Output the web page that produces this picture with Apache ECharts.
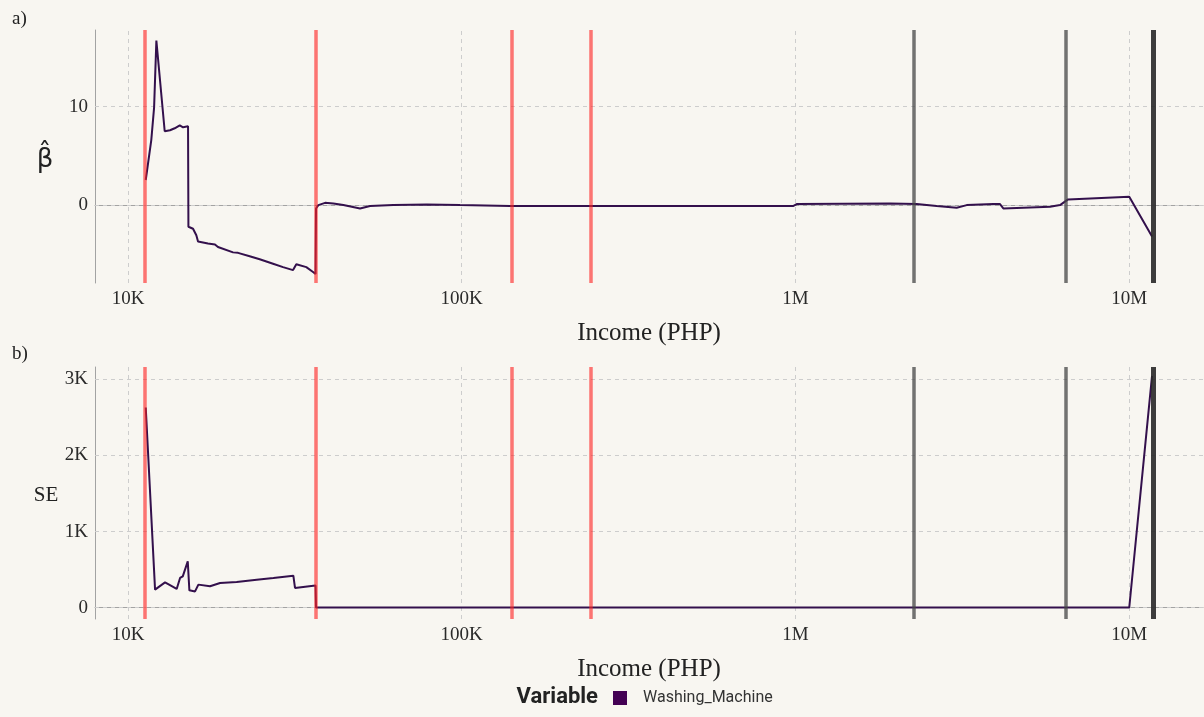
<!DOCTYPE html>
<html>
<head>
<meta charset="utf-8">
<script src="https://cdn.jsdelivr.net/npm/echarts@6/dist/echarts.min.js"></script>
<style>
  html, body { margin: 0; padding: 0; background: #f8f6f1; }
  #chart { width: 1204px; height: 717px; }
</style>
</head>
<body>
<div id="chart"></div>
<script>
// Coefficient estimates (beta hat) by income threshold
const betaIncome = [11300, 11740, 11970, 12160, 12880, 13360, 13800, 14290, 14620, 15130,
  15170, 15660, 16020, 16210, 17360, 18220, 18600, 20640, 21360, 23150,
  24810, 27200, 29140, 31230, 31940, 34220, 35840, 36470, 36590, 37180,
  38940, 41240, 44190, 49580, 53120, 62370, 78540, 98830, 139550, 392800,
  983500, 1009000, 1921000, 2309000, 2651000, 3043000, 3261000, 3918000, 4103000, 4198000,
  5794000, 6209000, 6561000, 10010000, 11713000];
const betaValues = [2.55, 6.6, 9.9, 16.7, 7.5, 7.6, 7.8, 8.1, 7.9, 8.0,
  -2.2, -2.4, -3.06, -3.7, -3.9, -4.0, -4.25, -4.8, -4.85, -5.2,
  -5.5, -5.95, -6.3, -6.6, -6.0, -6.3, -6.8, -7.0, -0.34, 0.0,
  0.23, 0.17, 0.0, -0.34, -0.1, 0.0, 0.07, 0.0, -0.1, -0.1,
  -0.1, 0.1, 0.17, 0.1, -0.1, -0.27, 0.0, 0.1, 0.1, -0.34,
  -0.17, 0.0, 0.58, 0.85, -3.2];

// Standard errors by income threshold
const seIncome = [11300, 12050, 12190, 12910, 13990, 14320, 14590, 15100, 15270, 15880,
  16250, 17610, 18870, 21160, 24300, 27260, 31290, 31650, 35920, 36470,
  36590, 100000, 1000000, 10010000, 11713000];
const seValues = [2628, 237, 214, 333, 246, 391, 412, 609, 228, 214,
  303, 281, 325, 338, 368, 391, 421, 259, 289, 290,
  4, 3, 3, 3, 3043];

// Breakpoints marked as vertical lines
const breaksRed = [11240, 36590, 141500, 244100];
const breaksGray = [2261000, 6471000];
const breaksDark = [11794000];

// Grid / tick values
const incomeTicks = [10000, 100000, 1000000, 10000000];
const betaTicks = [0, 10];
const seTicks = [0, 1000, 2000, 3000];

const serif = 'Liberation Serif';
const lineColor = '#33104c';
const gridLineStyle = { color: '#cdcdcd', width: 1, type: [4, 4] };

function incomeLabel(v) {
  if (v >= 1e6) return Math.round(v / 1e6) + 'M';
  return Math.round(v / 1e3) + 'K';
}
function pairs(xs, ys) { return xs.map((x, i) => [x, ys[i]]); }

function xAxisFor(gridIndex) {
  return {
    type: 'log', logBase: 10, gridIndex,
    min: 7962, max: 16650000,
    axisLine: { show: true, lineStyle: { color: '#a3a3a3', width: 1 } },
    axisTick: { show: false },
    splitLine: { show: false },
    axisLabel: {
      formatter: incomeLabel, showMinLabel: false, showMaxLabel: false,
      fontFamily: serif, fontSize: 19, color: '#2a2a2a', margin: 7
    },
    name: 'Income (PHP)', nameLocation: 'middle', nameGap: 38,
    nameTextStyle: { fontFamily: serif, fontSize: 25, color: '#222' }
  };
}
function yAxisFor(gridIndex, min, max, ticks, fmt) {
  return {
    type: 'value', gridIndex, min, max,
    axisLine: { show: true, lineStyle: { color: '#a3a3a3', width: 1 } },
    axisTick: { show: false },
    splitLine: { show: false },
    axisLabel: {
      customValues: ticks,
      formatter: v => (ticks.indexOf(v) >= 0 ? fmt(v) : ''),
      fontFamily: serif, fontSize: 19, color: '#2a2a2a', margin: 7
    }
  };
}

function gridSeries(idx, yTicks) {
  return {
    type: 'line', xAxisIndex: idx, yAxisIndex: idx, data: [], silent: true,
    markLine: {
      z: 1, silent: true, symbol: ['none', 'none'], label: { show: false },
      lineStyle: gridLineStyle, animation: false,
      data: incomeTicks.map(v => ({ xAxis: v })).concat(yTicks.map(v => ({ yAxis: v })))
    }
  };
}
function breakSeries(idx) {
  const mk = (vals, color, width) => vals.map(v => ({ xAxis: v, lineStyle: { color, width, type: 'solid' } }));
  return {
    type: 'line', xAxisIndex: idx, yAxisIndex: idx, data: [], silent: true,
    markLine: {
      z: 4, silent: true, symbol: ['none', 'none'], label: { show: false }, animation: false,
      data: mk(breaksRed, 'rgba(255,35,35,0.62)', 3.5)
        .concat(mk(breaksGray, 'rgba(70,70,70,0.75)', 3.5))
        .concat(mk(breaksDark, 'rgba(40,40,40,0.9)', 5))
    }
  };
}

const chart = echarts.init(document.getElementById('chart'));
chart.setOption({
  backgroundColor: '#f8f6f1',
  animation: false,
  grid: [
    { left: 95, top: 30, width: 1108, height: 253 },
    { left: 95, top: 367, width: 1108, height: 252 }
  ],
  xAxis: [xAxisFor(0), xAxisFor(1)],
  yAxis: [
    yAxisFor(0, -7.91, 17.78, betaTicks, v => String(v)),
    yAxisFor(1, -148, 3159, seTicks, v => (v === 0 ? '0' : v / 1000 + 'K'))
  ],
  legend: {
    left: 613, top: 690, padding: 0, icon: 'rect', itemWidth: 14, itemHeight: 14, itemGap: 10,
    data: ['Washing_Machine'],
    textStyle: { fontFamily: 'Roboto', fontSize: 16, color: '#333', padding: [0, 0, 0, 11] }
  },
  graphic: [
    { type: 'text', left: 12, top: 10, style: { text: 'a)', font: '19px "Liberation Serif"', fill: '#222' } },
    { type: 'text', left: 12, top: 345, style: { text: 'b)', font: '19px "Liberation Serif"', fill: '#222' } },
    { type: 'text', x: 45, y: 160, style: { text: 'β\u0302', font: '26px "DejaVu Sans"', fill: '#222', align: 'center', verticalAlign: 'middle' } },
    { type: 'text', x: 46, y: 495, style: { text: 'SE', font: '21px "Liberation Serif"', fill: '#222', align: 'center', verticalAlign: 'middle' } },
    { type: 'text', x: 598, y: 697, style: { text: 'Variable', font: 'bold 22px Roboto', fill: '#222', align: 'right', verticalAlign: 'middle' } }
  ],
  series: [
    gridSeries(0, betaTicks),
    gridSeries(1, seTicks),
    {
      name: 'Washing_Machine', type: 'line', xAxisIndex: 0, yAxisIndex: 0, z: 2,
      data: pairs(betaIncome, betaValues), showSymbol: false, symbol: 'none',
      itemStyle: { color: '#440154' }, lineStyle: { color: lineColor, width: 2 }
    },
    {
      name: 'Washing_Machine', type: 'line', xAxisIndex: 1, yAxisIndex: 1, z: 2,
      data: pairs(seIncome, seValues), showSymbol: false, symbol: 'none',
      itemStyle: { color: '#440154' }, lineStyle: { color: lineColor, width: 2 }
    },
    breakSeries(0),
    breakSeries(1)
  ]
});
</script>
</body>
</html>
